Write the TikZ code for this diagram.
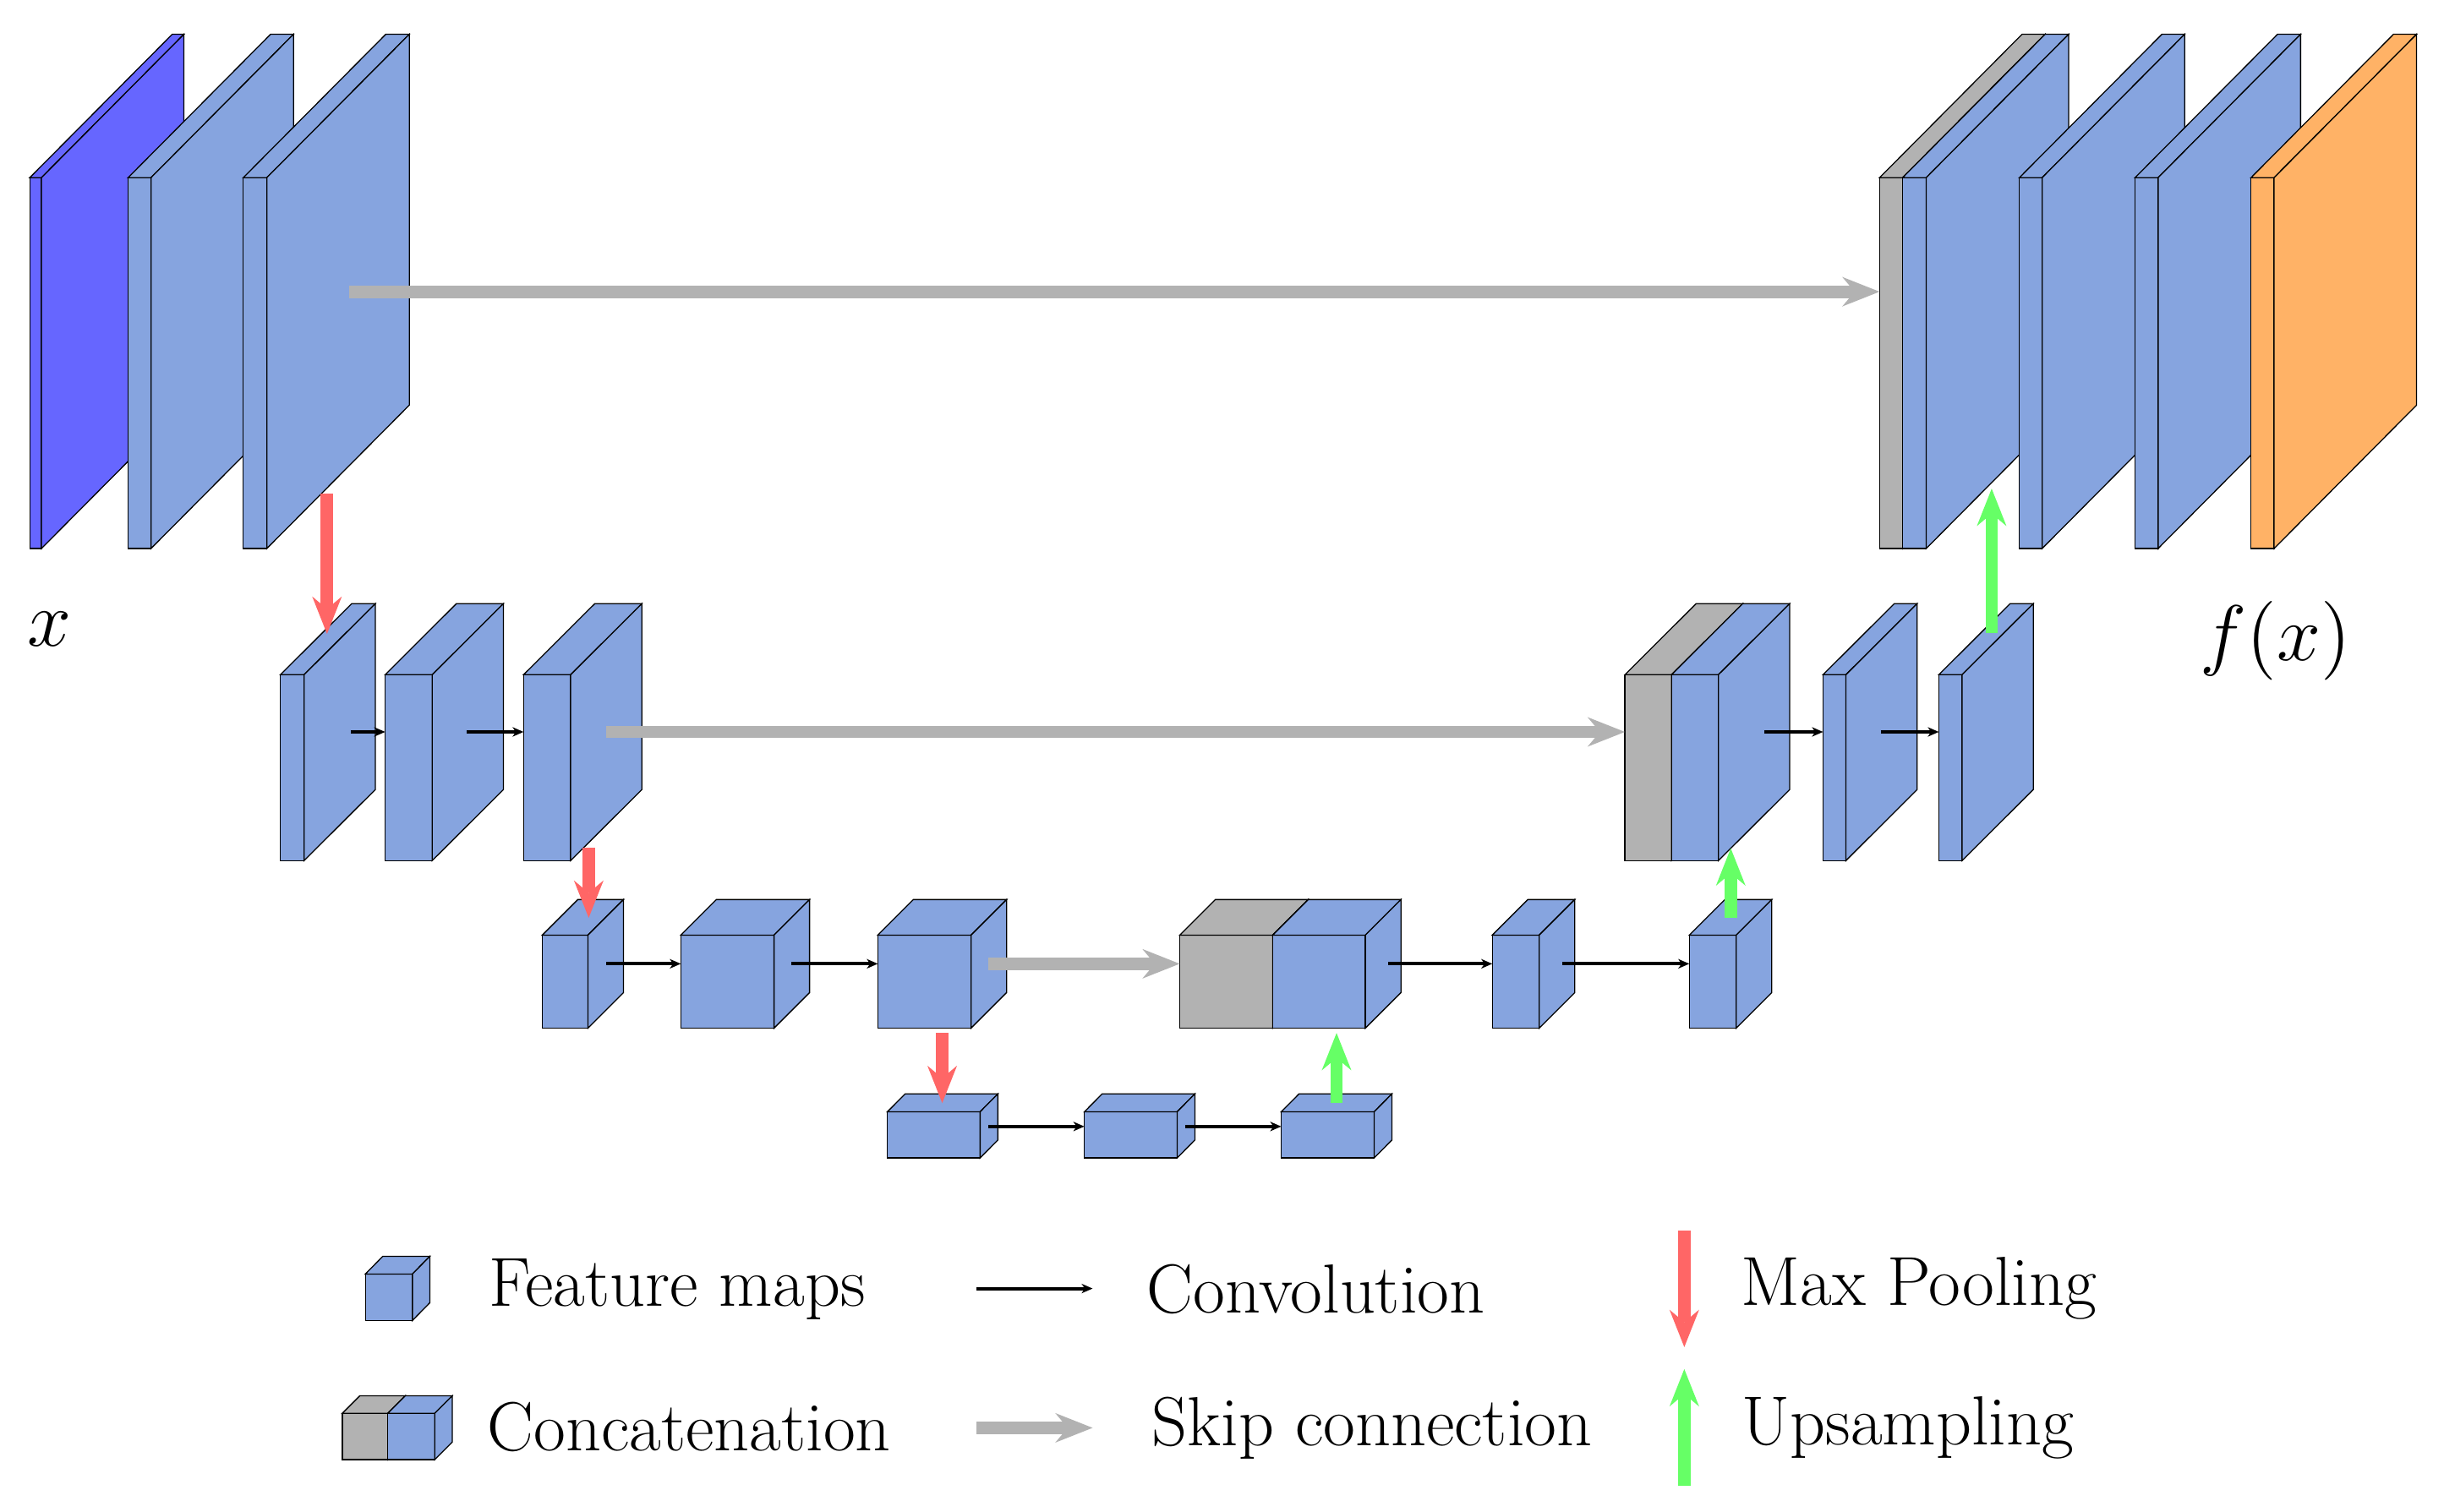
\documentclass[tikz,border=0pt]{standalone}
\usetikzlibrary{arrows.meta}
\definecolor{fmblue}{RGB}{134,164,223}
\definecolor{inblue}{RGB}{102,102,255}
\definecolor{catgrey}{RGB}{178,178,178}
\definecolor{outorange}{RGB}{255,178,102}
\definecolor{poolred}{RGB}{255,102,102}
\definecolor{upgreen}{RGB}{102,255,102}
% #1 front left, #2 front right, #3 front top, #4 front bottom, #5 depth dx, #6 depth dy, #7 colour
\newcommand{\fmbox}[7]{%
  \filldraw[boxline, fill=#7] (#1,#3) rectangle (#2,#4);
  \filldraw[boxline, fill=#7] (#1,#3) -- (#1+#5,#3-#6) -- (#2+#5,#3-#6) -- (#2,#3) -- cycle;
  \filldraw[boxline, fill=#7] (#2,#3) -- (#2+#5,#3-#6) -- (#2+#5,#4-#6) -- (#2,#4) -- cycle;
}
\newcommand{\legtext}[1]{\scalebox{0.5}{\fontsize{25.35}{30}\selectfont #1}}
\tikzset{
  boxline/.style={draw=black, line width=0.2pt},
  conv/.style={draw=black, line width=0.6pt, -{Stealth[length=0.07cm, width=0.06cm, inset=0.02cm]}},
  thickarrow/.style={line width=0.08cm, -{Stealth[length=0.24cm, width=0.19cm, inset=0.08cm, line width=0pt]}},
  skip/.style={thickarrow, draw=catgrey, fill=catgrey},
  pool/.style={thickarrow, draw=poolred, fill=poolred},
  upsamp/.style={thickarrow, draw=upgreen, fill=upgreen},
  lbl/.style={anchor=base west, inner sep=0pt},
  mlbl/.style={anchor=base west, inner sep=0pt, font=\fontsize{15.5}{18}\selectfont}
}
\begin{document}
\begin{tikzpicture}[x=0.01cm, y=-0.01cm]
\useasboundingbox (0,0) rectangle (1568,970);

% ---------- level 1
\fmbox{19.1}{26.6}{114}{352}{91.4}{92}{inblue}
\fmbox{82.2}{96.9}{114}{352}{91.4}{92}{fmblue}
\fmbox{156.1}{171.2}{114}{352}{91.4}{92}{fmblue}
\fmbox{1205.9}{1220.7}{114}{352}{91.4}{92}{catgrey}
\fmbox{1220.7}{1235.8}{114}{352}{91.4}{92}{fmblue}
\fmbox{1295.6}{1310.2}{114}{352}{91.4}{92}{fmblue}
\fmbox{1369.8}{1384.6}{114}{352}{91.4}{92}{fmblue}
\fmbox{1444.2}{1459}{114}{352}{91.4}{92}{outorange}

% ---------- level 2
\fmbox{179.9}{195.1}{433}{552.3}{45.7}{45.6}{fmblue}
\fmbox{247.1}{277.3}{433}{552.3}{45.7}{45.6}{fmblue}
\fmbox{335.9}{366.1}{433}{552.3}{45.7}{45.6}{fmblue}
\fmbox{1042.5}{1072.4}{433}{552.3}{45.7}{45.6}{catgrey}
\fmbox{1072.4}{1102.5}{433}{552.3}{45.7}{45.6}{fmblue}
\fmbox{1169.6}{1184.3}{433}{552.3}{45.7}{45.6}{fmblue}
\fmbox{1243.9}{1258.8}{433}{552.3}{45.7}{45.6}{fmblue}

% ---------- level 3
\fmbox{347.9}{377.2}{600.1}{659.8}{22.8}{22.8}{fmblue}
\fmbox{436.8}{496.6}{600.1}{659.8}{22.8}{22.8}{fmblue}
\fmbox{563.2}{623}{600.1}{659.8}{22.8}{22.8}{fmblue}
\fmbox{756.9}{816.5}{600.1}{659.8}{22.8}{22.8}{catgrey}
\fmbox{816.5}{876}{600.1}{659.8}{22.8}{22.8}{fmblue}
\fmbox{957.4}{987.5}{600.1}{659.8}{22.8}{22.8}{fmblue}
\fmbox{1083.8}{1113.9}{600.1}{659.8}{22.8}{22.8}{fmblue}

% ---------- level 4
\fmbox{569.3}{628.8}{713.5}{743.1}{11.4}{11.5}{fmblue}
\fmbox{695.7}{755.2}{713.5}{743.1}{11.4}{11.5}{fmblue}
\fmbox{822}{881.6}{713.5}{743.1}{11.4}{11.5}{fmblue}

% ---------- legend symbols
\fmbox{234.4}{264.6}{817.6}{847.4}{11.2}{11.4}{fmblue}
\fmbox{219.6}{248.8}{907}{936.7}{11.3}{11.3}{catgrey}
\fmbox{248.8}{278.9}{907}{936.7}{11.3}{11.3}{fmblue}

% ---------- connector end points
% level 2 convolutions
\coordinate (a2-e) at (225,469.7);    \coordinate (b2-w) at (247.1,469.7);
\coordinate (b2-e) at (299.4,469.7);  \coordinate (c2-w) at (335.9,469.7);
\coordinate (k2-e) at (1132.2,469.7); \coordinate (d2-w) at (1169.6,469.7);
\coordinate (d2-e) at (1206.7,469.7); \coordinate (e2-w) at (1243.9,469.7);
% level 3 convolutions
\coordinate (a3-e) at (388.9,618.5);  \coordinate (b3-w) at (436.8,618.5);
\coordinate (b3-e) at (507.8,618.5);  \coordinate (c3-w) at (563.2,618.5);
\coordinate (k3-e) at (890.6,618.5);  \coordinate (d3-w) at (957.4,618.5);
\coordinate (d3-e) at (1002.3,618.5); \coordinate (e3-w) at (1083.8,618.5);
% level 4 convolutions
\coordinate (a4-e) at (634.2,722.9);  \coordinate (b4-w) at (695.7,722.9);
\coordinate (b4-e) at (760.3,722.9);  \coordinate (c4-w) at (822,722.9);
% skips
\coordinate (c1-e) at (224,187.2);    \coordinate (k1-w) at (1205.9,187.2);
\coordinate (c2-e) at (388.8,469.7);  \coordinate (k2-w) at (1042.5,469.7);
\coordinate (c3-e) at (634.2,618.5);  \coordinate (k3-w) at (756.9,618.5);
% pooling
\coordinate (c1-s) at (209.8,317);    \coordinate (a2-n) at (209.8,406.8);
\coordinate (c2-s) at (377.7,544);    \coordinate (a3-n) at (377.7,589);
\coordinate (c3-s) at (604.5,662.9);  \coordinate (a4-n) at (604.5,707.9);
% upsampling
\coordinate (c4-n) at (857.5,708);    \coordinate (k3-s) at (857.5,662.9);
\coordinate (e3-n) at (1110.4,588.9); \coordinate (k2-s) at (1110.4,544.4);
\coordinate (e2-n) at (1277.8,406.4); \coordinate (k1-s) at (1277.8,313.6);
% legend arrows
\coordinate (lc-a) at (626.5,826.9);  \coordinate (lc-b) at (701,826.9);
\coordinate (ls-a) at (626.5,916.3);  \coordinate (ls-b) at (701,916.3);
\coordinate (lp-a) at (1080.6,789.7); \coordinate (lp-b) at (1080.6,864.5);
\coordinate (lu-a) at (1080.6,953.3); \coordinate (lu-b) at (1080.6,878.6);

% ---------- connectors
\draw[conv] (a2-e) -- (b2-w);
\draw[conv] (b2-e) -- (c2-w);
\draw[conv] (k2-e) -- (d2-w);
\draw[conv] (d2-e) -- (e2-w);
\draw[conv] (a3-e) -- (b3-w);
\draw[conv] (b3-e) -- (c3-w);
\draw[conv] (k3-e) -- (d3-w);
\draw[conv] (d3-e) -- (e3-w);
\draw[conv] (a4-e) -- (b4-w);
\draw[conv] (b4-e) -- (c4-w);

\draw[skip] (c1-e) -- (k1-w);
\draw[skip] (c2-e) -- (k2-w);
\draw[skip] (c3-e) -- (k3-w);

\draw[pool] (c1-s) -- (a2-n);
\draw[pool] (c2-s) -- (a3-n);
\draw[pool] (c3-s) -- (a4-n);

\draw[upsamp] (c4-n) -- (k3-s);
\draw[upsamp] (e3-n) -- (k2-s);
\draw[upsamp] (e2-n) -- (k1-s);

\draw[conv] (lc-a) -- (lc-b);
\draw[skip] (ls-a) -- (ls-b);
\draw[pool] (lp-a) -- (lp-b);
\draw[upsamp] (lu-a) -- (lu-b);

% ---------- labels
\node[mlbl] (xin) at (17,414.9) {$x$};
\node[mlbl] (fx) at (1411,424) {$f(x)$};
\node[lbl] (tfm) at (313,838) {\legtext{Feature maps}};
\node[lbl] (tconv) at (735,842.5) {\legtext{Convolution}};
\node[lbl] (tcat) at (312,931.1) {\legtext{Concatenation}};
\node[lbl] (tskip) at (738.5,927.5) {\legtext{Skip connection}};
\node[lbl] (tpool) at (1116.5,837.9) {\legtext{Max Pooling}};
\node[lbl] (tup) at (1117,927.4) {\legtext{Upsampling}};
\end{tikzpicture}
\end{document}
